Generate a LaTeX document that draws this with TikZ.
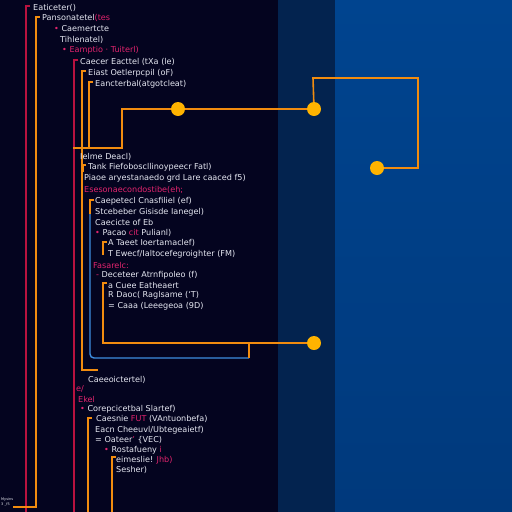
\documentclass[tikz,border=0pt]{standalone}
\usepackage{fontspec}
\setmainfont{DejaVu Sans}
\definecolor{bgdark}{HTML}{04041F}
\definecolor{bgband}{HTML}{03234F}
\definecolor{bgblueA}{HTML}{00448F}
\definecolor{bgblueB}{HTML}{00397C}
\definecolor{orl}{HTML}{F28C0F}
\definecolor{redl}{HTML}{B8123F}
\definecolor{bluel}{HTML}{3E8EE0}
\definecolor{dotc}{HTML}{FFB300}
\definecolor{txtc}{HTML}{E6E8F2}
\definecolor{pinkc}{HTML}{E3246E}
\newcommand{\pk}[1]{\textcolor{pinkc}{#1}}
\begin{document}
\begin{tikzpicture}[x=1pt,y=-1pt,
  txt/.style={anchor=west,inner sep=0pt,text=txtc,font=\fontsize{8.1}{9}\selectfont},
  tiny/.style={anchor=west,inner sep=0pt,text=txtc!70,font=\fontsize{3.5}{4}\selectfont},
  oline/.style={draw=orl,line width=1.6pt},
  rline/.style={draw=redl,line width=1.3pt},
  bline/.style={draw=bluel,line width=1.4pt,rounded corners=4pt},
  dot/.style={circle,fill=dotc,minimum size=14pt,inner sep=0pt}]
\useasboundingbox (0,0) rectangle (512,512);
% background
\fill[bgdark] (0,0) rectangle (278,512);
\fill[bgband] (278,0) rectangle (335,512);
\shade[top color=bgblueA,bottom color=bgblueB] (335,0) rectangle (512,512);

% coordinates for line ends
\coordinate (r1a) at (30,6);   \coordinate (r1b) at (26,6);   \coordinate (r1c) at (26,512);
\coordinate (o1a) at (40,17);  \coordinate (o1b) at (36,17);  \coordinate (o1c) at (36,507); \coordinate (o1d) at (13,507);
\coordinate (r2a) at (78,60);  \coordinate (r2b) at (74,60);  \coordinate (r2c) at (74,512);
\coordinate (o2a) at (86,71);  \coordinate (o2b) at (82,71);  \coordinate (o2c) at (82,370); \coordinate (o2d) at (98,370);
\coordinate (o3a) at (93,82);  \coordinate (o3b) at (89,82);  \coordinate (o3c) at (89,148);
\coordinate (h1a) at (73,148); \coordinate (h1b) at (122,148); \coordinate (h1c) at (122,109);
\coordinate (l1a) at (313,78); \coordinate (l1b) at (418,78); \coordinate (l1c) at (418,168);
\coordinate (s1a) at (86,165); \coordinate (s1b) at (83,165); \coordinate (s1c) at (83,172);
\coordinate (o4a) at (94,200); \coordinate (o4b) at (90,200); \coordinate (o4c) at (90,214);
\coordinate (b1a) at (90,214); \coordinate (b1b) at (90,358); \coordinate (b1c) at (249,358);
\coordinate (j1a) at (249,343);
\coordinate (s2a) at (107,242); \coordinate (s2b) at (103,242); \coordinate (s2c) at (103,255);
\coordinate (o5a) at (107,283); \coordinate (o5b) at (103,283); \coordinate (o5c) at (103,343);
\coordinate (o6a) at (92,418); \coordinate (o6b) at (88,418); \coordinate (o6c) at (88,512);
\coordinate (o7a) at (116,457); \coordinate (o7b) at (112,457); \coordinate (o7c) at (112,512);

% dots
\node[dot] (d1) at (178,109) {};
\node[dot] (d2) at (314,109) {};
\node[dot] (d3) at (377,168) {};
\node[dot] (d4) at (314,343) {};

% lines
\draw[rline] (r1a) -- (r1b) -- (r1c);
\draw[rline] (r2a) -- (r2b) -- (r2c);
\draw[oline] (o1a) -- (o1b) -- (o1c) -- (o1d);
\draw[oline] (o2a) -- (o2b) -- (o2c) -- (o2d);
\draw[oline] (o3a) -- (o3b) -- (o3c);
\draw[oline] (h1a) -- (h1b) -- (h1c) -- (d1) -- (d2);
\draw[oline] (d2) -- (l1a) -- (l1b) -- (l1c) -- (d3);
\draw[oline,line width=1.2pt] (s1a) -- (s1b) -- (s1c);
\draw[oline] (o4a) -- (o4b) -- (o4c);
\draw[bline] (b1a) -- (b1b) -- (b1c);
\draw[oline] (b1c) -- (j1a);
\draw[oline,line width=1.2pt] (s2a) -- (s2b) -- (s2c);
\draw[oline] (o5a) -- (o5b) -- (o5c) -- (d4);
\draw[oline] (o6a) -- (o6b) -- (o6c);
\draw[oline] (o7a) -- (o7b) -- (o7c);

% texts
\node[txt] (t1) at (33,8) {Eaticeter()};
\node[txt] (t2) at (42,18) {Pansonatetel\pk{(tes}};
\node[txt] (t3) at (54,29) {\pk{•} Caemertcte};
\node[txt] (t4) at (60,40) {Tihlenatel)};
\node[txt] (t5) at (62,50) {\pk{• Eamptio · Tuiterl)}};
\node[txt] (t6) at (80,62) {Caecer Eacttel (tXa (le)};
\node[txt] (t7) at (88,73) {Eiast Oetlerpcpil (oF)};
\node[txt] (t8) at (95,84) {Eancterbal(atgotcleat)};
\node[txt] (t9) at (80,157) {Ielme Deacl)};
\node[txt] (t10) at (88,167) {Tank Fiefoboscllinoypeecr Fatl)};
\node[txt] (t11) at (84,178) {Piaoe aryestanaedo grd Lare caaced f5)};
\node[txt] (t12) at (84,190) {\pk{Esesonaecondostibe(eh;}};
\node[txt] (t13) at (95,201) {Caepetecl Cnasfiliel (ef)};
\node[txt] (t14) at (95,212) {Stcebeber Gisisde Ianegel)};
\node[txt] (t15) at (95,222) {Caecicte of Eb};
\node[txt] (t16) at (95,233) {\pk{•} Pacao \pk{cit} Pulianl)};
\node[txt] (t17) at (108,243) {A Taeet Ioertamaclef)};
\node[txt] (t18) at (108,254) {T Ewecf/Ialtocefegroighter (FM)};
\node[txt] (t19) at (93,265) {\pk{Fasarelc:}};
\node[txt] (t20) at (96,275) {\pk{-} Deceteer Atrnfipoleo (f)};
\node[txt] (t21) at (108,285) {a Cuee Eatheaert};
\node[txt] (t22) at (108,295) {R Daoc( Raglsame (‘T)};
\node[txt] (t23) at (108,306) {= Caaa (Leeegeoa (9D)};
\node[txt] (t24) at (88,380) {Caeeoictertel)};
\node[txt] (t25) at (76,389) {\pk{e/}};
\node[txt] (t26) at (78,399) {\pk{Ekel}};
\node[txt] (t27) at (80,409) {\pk{•} Corepcicetbal Slartef)};
\node[txt] (t28) at (96,419) {Caesnie \pk{FUT} (VAntuonbefa)};
\node[txt] (t29) at (95,430) {Eacn Cheeuvl/Ubtegeaietf)};
\node[txt] (t30) at (95,440) {= Oateer\pk{'} \{VEC)};
\node[txt] (t31) at (104,450) {\pk{•} Rostafueny \pk{i}};
\node[txt] (t32) at (116,460) {eimeslie! \pk{Jhb)}};
\node[txt] (t33) at (116,470) {Sesher)};
\node[tiny] (t34) at (1,500) {Mysins};
\node[tiny] (t35) at (1,505) {3 \_f5};
\end{tikzpicture}
\end{document}
